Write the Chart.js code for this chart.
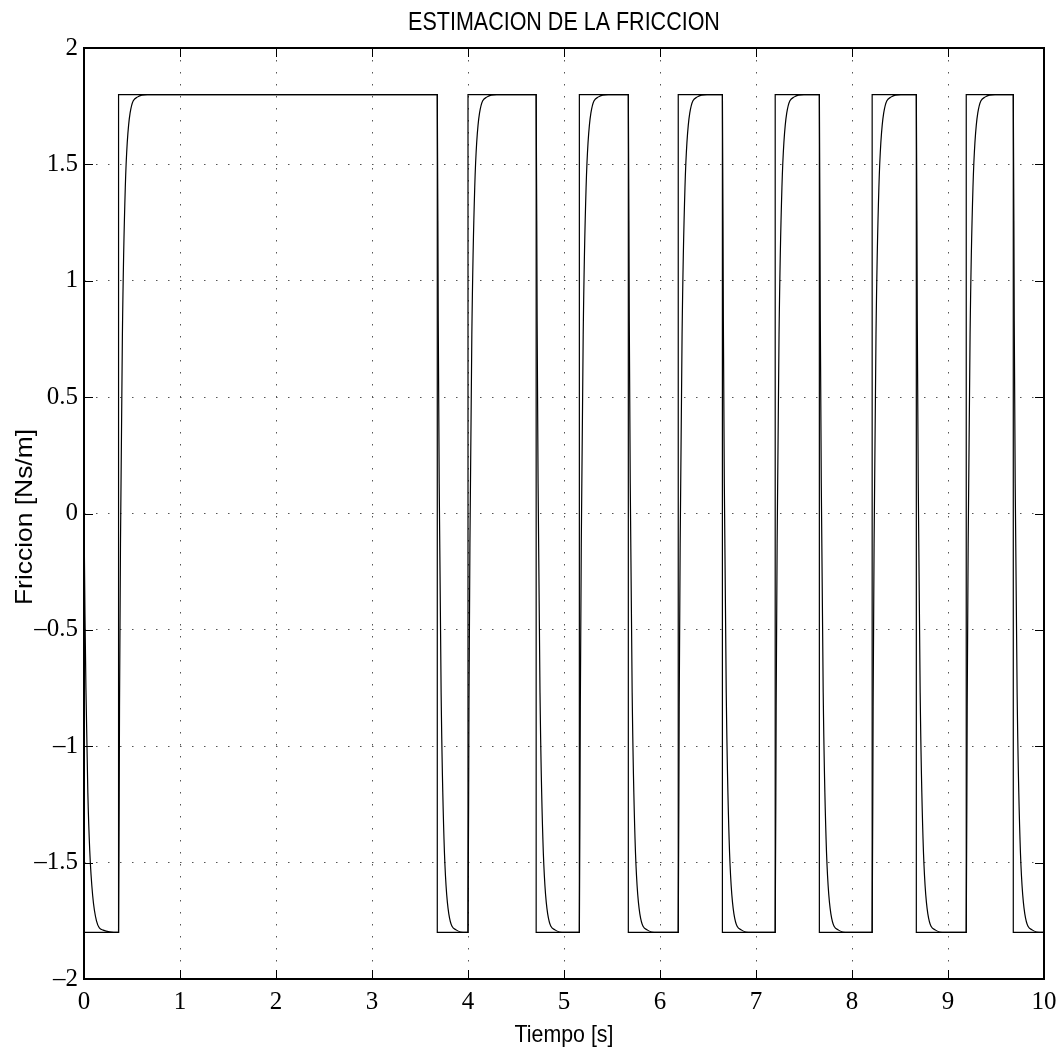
<!DOCTYPE html>
<html>
<head>
<meta charset="utf-8">
<script src="https://cdn.jsdelivr.net/npm/chart.js@4.4.1/dist/chart.umd.min.js"></script>
<style>
  html, body { margin: 0; padding: 0; background: #fff; }
  #wrap { width: 1057px; height: 1051px; }
</style>
</head>
<body>
<div id="wrap"><canvas id="chart" width="1057" height="1051"></canvas></div>
<script>
// Data
const titleText = 'ESTIMACION DE LA FRICCION';
const xLabel = 'Tiempo [s]';
const yLabel = 'Friccion [Ns/m]';

// square reference (real friction), vertical edges as repeated x
const refTime = [0, 0.36, 0.36, 3.68, 3.68, 4.00, 4.00, 4.71, 4.71, 5.16, 5.16, 5.67, 5.67,
    6.19, 6.19, 6.65, 6.65, 7.20, 7.20, 7.66, 7.66, 8.21, 8.21, 8.67, 8.67, 9.19, 9.19, 9.68, 9.68, 10];
const refValue = [-1.8, -1.8, 1.8, 1.8, -1.8, -1.8, 1.8, 1.8, -1.8, -1.8, 1.8, 1.8, -1.8,
    -1.8, 1.8, 1.8, -1.8, -1.8, 1.8, 1.8, -1.8, -1.8, 1.8, 1.8, -1.8, -1.8, 1.8, 1.8, -1.8, -1.8];

// estimated friction
const estTime = [
    0, 0.01, 0.02, 0.04, 0.06, 0.09, 0.13, 0.20,
    0.36, 0.37, 0.38, 0.40, 0.43, 0.48, 0.56, 0.66,
    3.68, 3.69, 3.70, 3.72, 3.75, 3.80, 3.88, 3.98,
    4.00, 4.01, 4.02, 4.04, 4.07, 4.12, 4.20, 4.30,
    4.71, 4.72, 4.73, 4.75, 4.78, 4.83, 4.91, 5.01,
    5.16, 5.17, 5.18, 5.20, 5.23, 5.28, 5.36, 5.46,
    5.67, 5.68, 5.69, 5.71, 5.74, 5.79, 5.87, 5.97,
    6.19, 6.20, 6.21, 6.23, 6.26, 6.31, 6.39, 6.49,
    6.65, 6.66, 6.67, 6.69, 6.72, 6.77, 6.85, 6.95,
    7.20, 7.21, 7.22, 7.24, 7.27, 7.32, 7.40, 7.50,
    7.66, 7.67, 7.68, 7.70, 7.73, 7.78, 7.86, 7.96,
    8.21, 8.22, 8.23, 8.25, 8.28, 8.33, 8.41, 8.51,
    8.67, 8.68, 8.69, 8.71, 8.74, 8.79, 8.87, 8.97,
    9.19, 9.20, 9.21, 9.23, 9.26, 9.31, 9.39, 9.49,
    9.68, 9.69, 9.70, 9.72, 9.75, 9.80, 9.88, 9.98, 10
];
const estValue = [
    0, -0.43, -0.75, -1.20, -1.45, -1.64, -1.75, -1.79,
    -1.8, -0.83, -0.13, 0.77, 1.40, 1.72, 1.79, 1.8,
    1.8, 0.83, 0.13, -0.77, -1.40, -1.72, -1.79, -1.8,
    -1.8, -0.83, -0.13, 0.77, 1.40, 1.72, 1.79, 1.8,
    1.8, 0.83, 0.13, -0.77, -1.40, -1.72, -1.79, -1.8,
    -1.8, -0.83, -0.13, 0.77, 1.40, 1.72, 1.79, 1.8,
    1.8, 0.83, 0.13, -0.77, -1.40, -1.72, -1.79, -1.8,
    -1.8, -0.83, -0.13, 0.77, 1.40, 1.72, 1.79, 1.8,
    1.8, 0.83, 0.13, -0.77, -1.40, -1.72, -1.79, -1.8,
    -1.8, -0.83, -0.13, 0.77, 1.40, 1.72, 1.79, 1.8,
    1.8, 0.83, 0.13, -0.77, -1.40, -1.72, -1.79, -1.8,
    -1.8, -0.83, -0.13, 0.77, 1.40, 1.72, 1.79, 1.8,
    1.8, 0.83, 0.13, -0.77, -1.40, -1.72, -1.79, -1.8,
    -1.8, -0.83, -0.13, 0.77, 1.40, 1.72, 1.79, 1.8,
    1.8, 0.83, 0.13, -0.77, -1.40, -1.72, -1.79, -1.8, -1.8
];

const xTicks = [0, 1, 2, 3, 4, 5, 6, 7, 8, 9, 10];
const yTicks = [-2, -1.5, -1, -0.5, 0, 0.5, 1, 1.5, 2];

const toPoints = (xs, ys) => xs.map((x, i) => ({ x: x, y: ys[i] }));
const fmt = v => (v < 0 ? '\u2013' : '') + String(Math.abs(v));

const sansFamily = '"Liberation Sans", Arial, Helvetica, sans-serif';

// draw text squeezed or stretched along its own direction
function drawText(ctx, text, x, y, size, stretch, angle) {
    ctx.save();
    ctx.translate(x, y);
    if (angle) ctx.rotate(angle);
    ctx.scale(stretch, 1);
    ctx.font = size + 'px ' + sansFamily;
    ctx.fillStyle = '#000';
    ctx.textAlign = 'center';
    ctx.textBaseline = 'alphabetic';
    ctx.fillText(text, 0, 0);
    ctx.restore();
}

// box round the plot, inward tick marks, title and axis labels
const framePlugin = {
    id: 'frame',
    afterDraw(chart) {
        const { ctx, chartArea: a, scales } = chart;
        const len = 9;
        ctx.save();
        ctx.strokeStyle = '#000';
        ctx.lineWidth = 1;
        ctx.beginPath();
        xTicks.forEach(t => {
            const px = Math.round(scales.x.getPixelForValue(t)) + 0.5;
            ctx.moveTo(px, a.bottom); ctx.lineTo(px, a.bottom - len);
            ctx.moveTo(px, a.top); ctx.lineTo(px, a.top + len);
        });
        yTicks.forEach(t => {
            const py = Math.round(scales.y.getPixelForValue(t)) + 0.5;
            ctx.moveTo(a.left, py); ctx.lineTo(a.left + len, py);
            ctx.moveTo(a.right, py); ctx.lineTo(a.right - len, py);
        });
        ctx.stroke();
        ctx.lineWidth = 2;
        ctx.strokeRect(a.left, a.top, a.right - a.left, a.bottom - a.top);
        ctx.restore();

        const cx = (a.left + a.right) / 2;
        drawText(ctx, titleText, cx, 30, 25, 0.86, 0);
        drawText(ctx, xLabel, cx, 1042, 24, 0.89, 0);
        drawText(ctx, yLabel, 32, 517, 24, 1.1, -Math.PI / 2);
    }
};

const tickFont = { family: '"Liberation Serif", "Times New Roman", serif', size: 25 };

new Chart(document.getElementById('chart'), {
    type: 'scatter',
    data: {
        datasets: [
            {
                label: 'estimada',
                data: toPoints(estTime, estValue),
                showLine: true,
                borderColor: '#000',
                borderWidth: 1.2,
                pointRadius: 0,
                cubicInterpolationMode: 'monotone'
            },
            {
                label: 'real',
                data: toPoints(refTime, refValue),
                showLine: true,
                borderColor: '#000',
                borderWidth: 1.2,
                pointRadius: 0,
                tension: 0
            }
        ]
    },
    options: {
        responsive: false,
        animation: false,
        layout: { padding: { left: 0, right: 13, top: 48, bottom: 0 } },
        plugins: {
            legend: { display: false },
            tooltip: { enabled: false },
            title: { display: false }
        },
        scales: {
            x: {
                type: 'linear',
                min: 0,
                max: 10,
                afterBuildTicks: s => { s.ticks = xTicks.map(v => ({ value: v })); },
                afterFit: s => {
                    s.height = 72;
                    s.paddingLeft = 0;
                    s.paddingRight = 0;
                },
                ticks: { color: '#000', font: tickFont, padding: 8, maxRotation: 0, callback: v => fmt(v) },
                grid: { color: '#555', lineWidth: 1, drawTicks: false },
                border: { display: false, dash: [1.5, 10.5] }
            },
            y: {
                type: 'linear',
                min: -2,
                max: 2,
                afterBuildTicks: s => { s.ticks = yTicks.map(v => ({ value: v })); },
                afterFit: s => {
                    s.width = 84;
                    s.paddingTop = 0;
                    s.paddingBottom = 0;
                },
                ticks: { color: '#000', font: tickFont, padding: 6, callback: v => fmt(v) },
                grid: { color: '#555', lineWidth: 1, drawTicks: false },
                border: { display: false, dash: [1.5, 10.5] }
            }
        }
    },
    plugins: [framePlugin]
});
</script>
</body>
</html>
